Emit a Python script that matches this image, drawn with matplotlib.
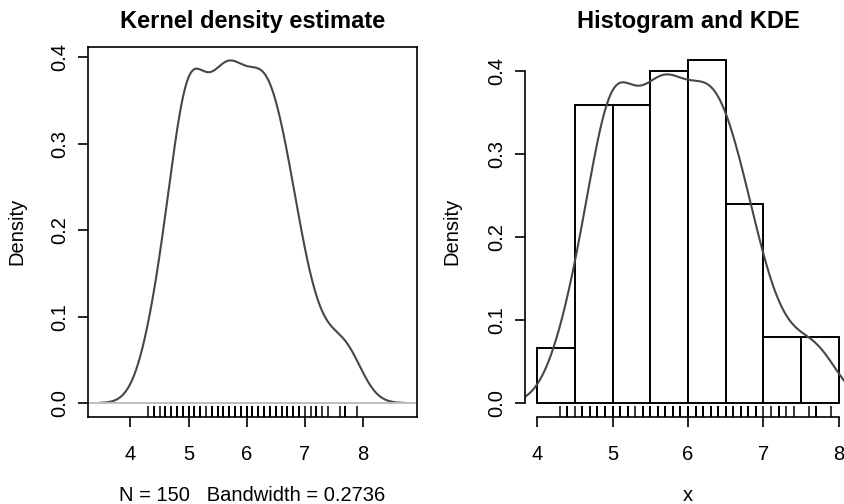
import numpy as np
import matplotlib
matplotlib.use("Agg")
import matplotlib.pyplot as plt

plt.rcParams["font.family"] = ["Liberation Sans", "DejaVu Sans"]

# iris Sepal.Length (the rug marks), 150 values
sepal_length = np.array([
    5.1, 4.9, 4.7, 4.6, 5.0, 5.4, 4.6, 5.0, 4.4, 4.9, 5.4, 4.8, 4.8, 4.3, 5.8,
    5.7, 5.4, 5.1, 5.7, 5.1, 5.4, 5.1, 4.6, 5.1, 4.8, 5.0, 5.0, 5.2, 5.2, 4.7,
    4.8, 5.4, 5.2, 5.5, 4.9, 5.0, 5.5, 4.9, 4.4, 5.1, 5.0, 4.5, 4.4, 5.0, 5.1,
    4.8, 5.1, 4.6, 5.3, 5.0,
    7.0, 6.4, 6.9, 5.5, 6.5, 5.7, 6.3, 4.9, 6.6, 5.2, 5.0, 5.9, 6.0, 6.1, 5.6,
    6.7, 5.6, 5.8, 6.2, 5.6, 5.9, 6.1, 6.3, 6.1, 6.4, 6.6, 6.8, 6.7, 6.0, 5.7,
    5.5, 5.5, 5.8, 6.0, 5.4, 6.0, 6.7, 6.3, 5.6, 5.5, 5.5, 6.1, 5.8, 5.0, 5.6,
    5.7, 5.7, 6.2, 5.1, 5.7,
    6.3, 5.8, 7.1, 6.3, 6.5, 7.6, 4.9, 7.3, 6.7, 7.2, 6.5, 6.4, 6.8, 5.7, 5.8,
    6.4, 6.5, 7.7, 7.7, 6.0, 6.9, 5.6, 7.7, 6.3, 6.7, 7.2, 6.2, 6.1, 6.4, 7.2,
    7.4, 7.9, 6.4, 6.3, 6.1, 7.7, 6.3, 6.4, 6.0, 6.9, 6.7, 6.9, 5.8, 6.8, 6.7,
    6.7, 6.3, 6.5, 6.2, 5.9,
])
bandwidth = 0.2736

# histogram
hist_breaks = [4.0, 4.5, 5.0, 5.5, 6.0, 6.5, 7.0, 7.5, 8.0]
hist_density = [0.0667, 0.36, 0.36, 0.40, 0.4133, 0.24, 0.08, 0.08]

x_ticks = [4, 5, 6, 7, 8]
y_ticks = [0.0, 0.1, 0.2, 0.3, 0.4]
y_ticklabels = ["0.0", "0.1", "0.2", "0.3", "0.4"]

# gaussian kernel density, like R's density()
grid = np.linspace(sepal_length.min() - 3 * bandwidth,
                   sepal_length.max() + 3 * bandwidth, 512)
kde = np.exp(-0.5 * ((grid[:, None] - sepal_length[None, :]) / bandwidth) ** 2)
kde = kde.sum(axis=1) / (len(sepal_length) * bandwidth * np.sqrt(2 * np.pi))

curve_col = "#474747"
W, H = 845, 504
fig = plt.figure(figsize=(W / 100, H / 100), dpi=100)

tick_fs = 14.5
title_fs = 17


def r_axes(ax):
    ax.tick_params(direction="out", length=7.2, width=1.2,
                   labelsize=tick_fs, color="black")
    ax.tick_params(axis="x", pad=13)
    ax.tick_params(axis="y", pad=6)
    ax.set_xticks(x_ticks)
    ax.set_yticks(y_ticks)
    ax.set_yticklabels(y_ticklabels, rotation=90, va="center")
    for s in ax.spines.values():
        s.set_linewidth(1.2)


# left panel: kernel density estimate
ax1 = fig.add_axes([88 / W, 1 - 416.7 / H, 329 / W, 370 / H])
ax1.plot(grid, kde, color=curve_col, lw=1.5)
ax1.axhline(0, color="#bebebe", lw=1.4)
ax1.vlines(sepal_length, 0, 0.03, transform=ax1.get_xaxis_transform(),
           color="black", lw=1.1)
span = grid[-1] - grid[0]
ax1.set_xlim(grid[0] - 0.04 * span, grid[-1] + 0.04 * span)
ymax = kde.max()
ax1.set_ylim(-0.04 * ymax, 1.04 * ymax)
r_axes(ax1)
ax1.set_title("Kernel density estimate", fontsize=title_fs,
              fontweight="bold", y=1.067, pad=0, va="center")
ax1.set_xlabel("N = 150   Bandwidth = 0.2736", fontsize=tick_fs, va="center")
ax1.xaxis.set_label_coords(0.5, -0.212)
ax1.set_ylabel("Density", fontsize=tick_fs, va="center")
ax1.yaxis.set_label_coords(-0.216, 0.5)

# right panel: histogram with KDE overlay
ax2 = fig.add_axes([525 / W, 1 - 416.7 / H, 326 / W, 370 / H])
ax2.bar(hist_breaks[:-1], hist_density, width=np.diff(hist_breaks),
        align="edge", facecolor="white", edgecolor="black", lw=1.4)
ax2.plot(grid, kde, color=curve_col, lw=1.5)
ax2.vlines(sepal_length, 0, 0.03, transform=ax2.get_xaxis_transform(),
           color="black", lw=1.1)
ax2.set_xlim(4 - 0.04 * 4, 8 + 0.04 * 4)
hmax = max(hist_density)
ax2.set_ylim(-0.04 * hmax, 1.04 * hmax)
r_axes(ax2)
ax2.spines["top"].set_visible(False)
ax2.spines["right"].set_visible(False)
ax2.spines["left"].set_bounds(0, 0.4)
ax2.spines["bottom"].set_bounds(4, 8)
ax2.set_title("Histogram and KDE", fontsize=title_fs,
              fontweight="bold", y=1.067, pad=0, va="center")
ax2.set_xlabel("x", fontsize=tick_fs, va="center")
ax2.xaxis.set_label_coords(0.5, -0.212)
ax2.set_ylabel("Density", fontsize=tick_fs, va="center")
ax2.yaxis.set_label_coords(-0.224, 0.5)

fig.savefig("out.png", dpi=100, facecolor="white")
